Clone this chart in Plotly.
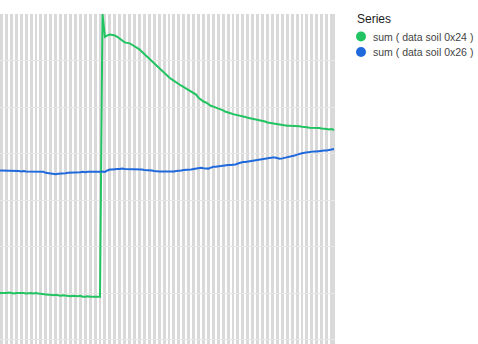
import plotly.graph_objects as go

# sample times (hours), one reading every half hour
sample_hours = [i * 0.5 for i in range(137)]

soil_0x24 = [
    101, 101, 100, 101, 102, 101, 100, 101, 101, 102,
    101, 100, 101, 101, 100, 101, 100, 99, 98, 97,
    97, 97, 96, 97, 96, 95, 96, 95, 95, 94,
    95, 94, 94, 95, 93, 93, 94, 93, 93, 93,
    94, 93, 700, 651, 654, 656, 655, 654, 651, 647,
    643, 639, 638, 637, 634, 631, 628, 624, 619, 614,
    609, 604, 599, 594, 588, 583, 577, 572, 568, 564,
    560, 556, 553, 550, 546, 543, 540, 536, 533, 530,
    527, 520, 515, 512, 510, 506, 503, 501, 499, 497,
    496, 493, 490, 489, 487, 485, 484, 482, 481, 480,
    479, 477, 476, 475, 474, 472, 471, 470, 469, 467,
    466, 465, 465, 463, 462, 461, 461, 460, 460, 460,
    460, 459, 459, 458, 458, 457, 456, 456, 456, 455,
    455, 454, 454, 453, 452, 453, 451,
]

soil_0x26 = [
    364, 364, 363, 364, 363, 363, 364, 363, 363, 362,
    363, 362, 362, 362, 362, 361, 362, 361, 361, 359,
    358, 357, 357, 356, 357, 357, 358, 358, 359, 359,
    359, 360, 360, 360, 361, 360, 361, 361, 360, 361,
    361, 361, 362, 361, 364, 366, 366, 367, 367, 367,
    368, 367, 367, 367, 366, 367, 366, 366, 366, 365,
    365, 365, 364, 363, 362, 362, 362, 362, 361, 362,
    362, 362, 363, 363, 364, 365, 365, 366, 366, 367,
    368, 369, 370, 369, 368, 368, 370, 372, 372, 373,
    374, 375, 375, 376, 376, 376, 377, 379, 381, 382,
    382, 383, 383, 384, 385, 386, 387, 388, 389, 390,
    391, 392, 392, 390, 389, 390, 391, 392, 393, 394,
    396, 398, 400, 401, 402, 403, 404, 404, 405, 405,
    406, 406, 407, 407, 408, 409, 410,
]

legend_title = "Series"
series_names = ["sum ( data soil 0x24 )", "sum ( data soil 0x26 )"]
series_colors = ["#22c462", "#1f69dc"]
series_values = [soil_0x24, soil_0x26]

W, H = 478, 344
ML, MR, MT, MB = 0, 143, 14, 0
PW, PH = W - ML - MR, H - MT - MB


def px_x(p):
    return (p - ML) / PW


def px_y(p):
    return (H - MB - p) / PH


fig = go.Figure()
for name, color, vals in zip(series_names, series_colors, series_values):
    fig.add_trace(go.Scatter(
        x=sample_hours[:len(vals)], y=vals, mode="lines", name=name,
        line=dict(color=color, width=2), showlegend=False, hoverinfo="skip",
    ))

# legend drawn as text + circles to the right of the plot
annotations = [dict(
    text=legend_title, xref="paper", yref="paper",
    x=px_x(355), y=px_y(18.5), xanchor="left", yanchor="middle",
    showarrow=False, font=dict(size=12, color="#222"),
)]
shapes = []
for i, (name, color) in enumerate(zip(series_names, series_colors)):
    cy = 36.5 + i * 15.5
    annotations.append(dict(
        text=name, xref="paper", yref="paper",
        x=px_x(371), y=px_y(cy), xanchor="left", yanchor="middle",
        showarrow=False, font=dict(size=10.5, color="#444"),
    ))
    shapes.append(dict(
        type="circle", xref="paper", yref="paper",
        x0=px_x(356), x1=px_x(366), y0=px_y(cy + 5), y1=px_y(cy - 5),
        fillcolor=color, line=dict(width=0), layer="above",
    ))

fig.update_layout(
    width=W, height=H,
    margin=dict(l=ML, r=MR, t=MT, b=MB, pad=0, autoexpand=False),
    paper_bgcolor="white",
    plot_bgcolor="#d9d9d9",
    font=dict(family="Liberation Sans, Arial, sans-serif", color="#444"),
    showlegend=False,
    annotations=annotations,
    shapes=shapes,
    xaxis=dict(
        range=[0.2, 68.2], dtick=1, tick0=0,
        showgrid=True, gridcolor="white", gridwidth=2,
        showticklabels=False, ticks="", zeroline=False, showline=False,
    ),
    yaxis=dict(
        range=[-8.6, 700], dtick=100, tick0=0,
        showgrid=True, gridcolor="#e6e6e6", gridwidth=1,
        showticklabels=False, ticks="", zeroline=False, showline=False,
    ),
)

fig.write_html("out.html")
